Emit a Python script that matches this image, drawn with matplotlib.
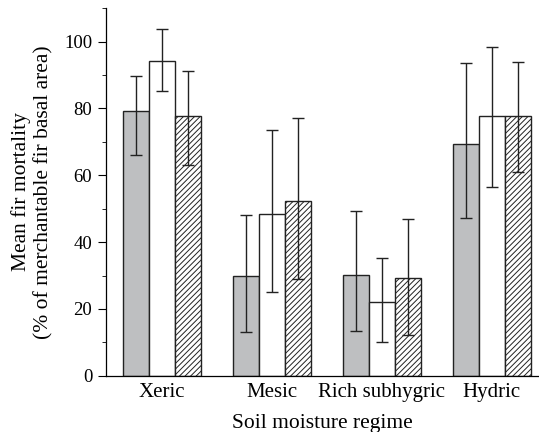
import numpy as np
import matplotlib
matplotlib.use("Agg")
import matplotlib.pyplot as plt
from matplotlib.ticker import MultipleLocator

plt.rcParams["font.family"] = ["Liberation Serif", "DejaVu Serif"]
plt.rcParams["hatch.linewidth"] = 0.7

regimes = ["Xeric", "Mesic", "Rich subhygric", "Hydric"]

# three series per regime: mean, lower CI bound, upper CI bound
gray_mean = [79.2, 29.9, 30.2, 69.3]
gray_lo = [66.0, 13.1, 13.5, 47.1]
gray_hi = [89.6, 48.2, 49.3, 93.5]

white_mean = [94.3, 48.5, 22.2, 77.7]
white_lo = [85.2, 25.0, 10.2, 56.6]
white_hi = [103.7, 73.5, 35.3, 98.3]

hatch_mean = [77.7, 52.2, 29.4, 77.7]
hatch_lo = [63.0, 29.0, 12.3, 61.1]
hatch_hi = [91.3, 77.1, 47.0, 94.0]

series = [
    (gray_mean, gray_lo, gray_hi, dict(color="#bebfc1", hatch=None)),
    (white_mean, white_lo, white_hi, dict(color="white", hatch=None)),
    (hatch_mean, hatch_lo, hatch_hi, dict(color="white", hatch="//////")),
]

fig = plt.figure(figsize=(5.39, 4.32), dpi=100)
ax = fig.add_axes([0.197, 0.13, 0.803, 0.851])

x = np.arange(len(regimes))
w = 0.236
for i, (mean, lo, hi, st) in enumerate(series):
    pos = x + (i - 1) * w
    mean = np.array(mean); lo = np.array(lo); hi = np.array(hi)
    ax.bar(pos, mean, width=w, color=st["color"], edgecolor="#222222",
           linewidth=1.0, hatch=st["hatch"], zorder=2)
    ax.errorbar(pos, mean, yerr=[mean - lo, hi - mean], fmt="none",
                ecolor="#222222", elinewidth=1.0, capsize=4.6, capthick=1.0, zorder=3)

ax.set_xlim(-0.51, 3.43)
ax.set_ylim(0, 110)
ax.set_xticks(x)
ax.set_xticklabels(regimes, fontsize=15)
ax.tick_params(axis="x", length=0, pad=5)
ax.yaxis.set_major_locator(MultipleLocator(20))
ax.yaxis.set_minor_locator(MultipleLocator(10))
ax.tick_params(axis="y", which="major", length=6, labelsize=13.5, direction="out", pad=4)
ax.tick_params(axis="y", which="minor", length=3, direction="out")
for s in ("top", "right"):
    ax.spines[s].set_visible(False)
ax.spines["left"].set_linewidth(0.9)
ax.spines["bottom"].set_linewidth(0.9)

ax.set_xlabel("Soil moisture regime", fontsize=15.5, labelpad=9)
ax.set_ylabel("Mean fir mortality\n(% of merchantable fir basal area)", fontsize=15.5,
              labelpad=8, linespacing=1.15)

fig.savefig("out.png", dpi=100)
